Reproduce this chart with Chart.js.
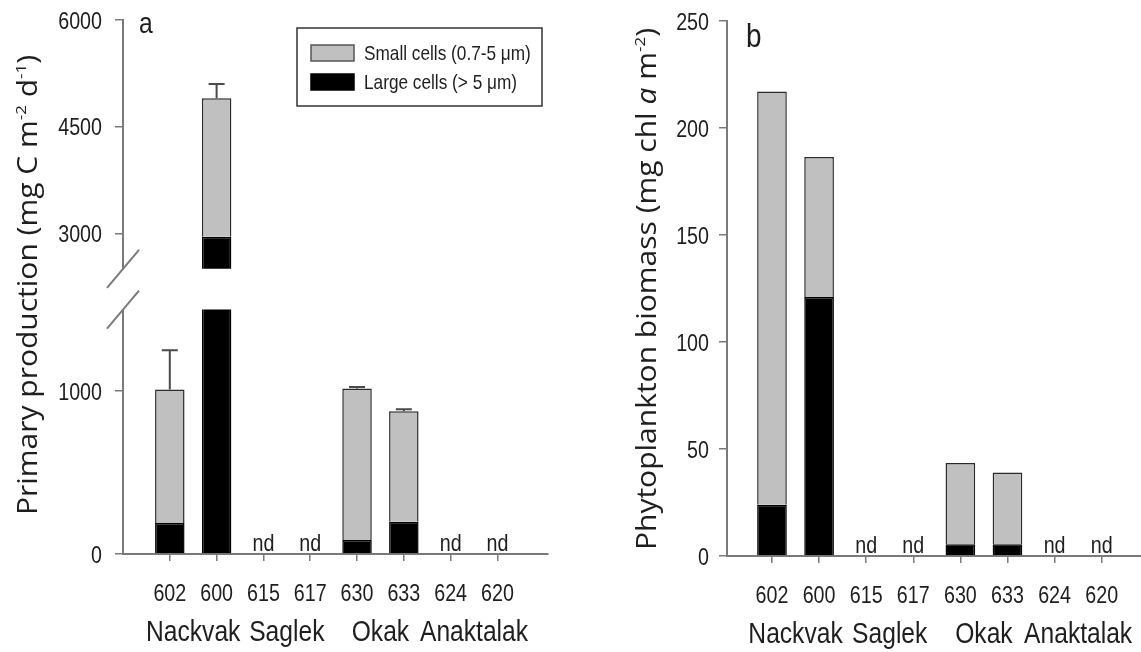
<!DOCTYPE html>
<html>
<head>
<meta charset="utf-8">
<script src="https://cdn.jsdelivr.net/npm/chart.js@4.4.1/dist/chart.umd.min.js"></script>
<style>
  html, body { margin: 0; padding: 0; background: #fff; }
  body { width: 1141px; height: 652px; position: relative; overflow: hidden; }
  .panel { position: absolute; top: 0; height: 652px; }
  #wrapA { left: 0; width: 570px; }
  #wrapB { left: 570px; width: 571px; }
</style>
</head>
<body>
<div class="panel" id="wrapA"><canvas id="chartA"></canvas></div>
<div class="panel" id="wrapB"><canvas id="chartB"></canvas></div>
<script>
// stations, grouped two by two under the fjord names
const stations = ['602', '600', '615', '617', '630', '633', '624', '620'];
const groupNames = ['Nackvak', 'Saglek', 'Okak', 'Anaktalak'];
const legendLabels = ['Small cells (0.7-5 \u03bcm)', 'Large cells (> 5 \u03bcm)'];

// a: primary production (mg C m-2 d-1), null = nd
const prodLarge = [190, 2950, null, null, 86, 198, null, null];
const prodSmall = [820, 1950, null, null, 929, 678, null, null];
const prodErrTop = [1250, 5100, null, null, 1025, 888, null, null];
const prodTicksLow = [0, 1000];
const prodTicksHigh = [3000, 4500, 6000];

// b: phytoplankton biomass (mg chl a m-2)
const chlLarge = [24, 121, null, null, 5.5, 5.5, null, null];
const chlSmall = [193, 65.5, null, null, 38, 33.5, null, null];
const chlTicks = [0, 50, 100, 150, 200, 250];

// broken axis of panel a
const LOW_MAX = 1750, LOW_BREAK = 1500, HIGH_MIN = 2500, HIGH_MAX = 6000;

const titleA = [
    { text: 'Primary production (mg C m' }, { text: '-2', sup: true },
    { text: ' d' }, { text: '-1', sup: true }, { text: ')' }
];
const titleB = [
    { text: 'Phytoplankton biomass (mg chl ' }, { text: 'a', italic: true },
    { text: ' m' }, { text: '-2', sup: true }, { text: ')' }
];

const GRAY = '#c0c0c0';
const BLACK = '#000000';
const EDGE = '#2a2a2a';
const AXIS = '#7a7a7a';
const TEXT = '#1e1e1e';
const SANS = '"Liberation Sans", Arial, sans-serif';
const TITLE_FONT = '"Open Sans", "Noto Sans", sans-serif';
const SQUEEZE = 0.82; // the figure's lettering is condensed
const TITLE_SQUEEZE = 0.9;

const xy = arr => arr.map((v, i) => ({ x: i + 1, y: v }));

function bars(label, data, color, axis) {
    return {
        label, data: xy(data), yAxisID: axis, stack: 'one',
        backgroundColor: color, borderColor: color === BLACK ? BLACK : EDGE,
        borderWidth: 1.5, barPercentage: 0.63, categoryPercentage: 1
    };
}

function xScale(min, max, height) {
    return {
        type: 'linear', min, max, stacked: true, offset: false,
        afterBuildTicks: s => { s.ticks = stations.map((_, i) => ({ value: i + 1 })); },
        afterFit: s => { s.height = height; },
        ticks: { display: false },
        grid: { offset: false, drawOnChartArea: false, tickLength: 7, color: AXIS, lineWidth: 1.5 },
        border: { color: AXIS, width: 2 }
    };
}

function yScale(extra, tickValues, width) {
    return Object.assign({
        type: 'linear', position: 'left', beginAtZero: false,
        afterBuildTicks: s => { s.ticks = tickValues.map(v => ({ value: v })); },
        afterFit: s => { s.width = width; },
        ticks: { display: false },
        grid: { drawOnChartArea: false, tickLength: 8, color: AXIS, lineWidth: 1.5 },
        border: { color: AXIS, width: 2 }
    }, extra);
}

function squeezed(ctx, text, x, y, size, align) {
    ctx.save();
    ctx.translate(x, y);
    ctx.scale(SQUEEZE, 1);
    ctx.font = `${size}px ${SANS}`;
    ctx.textAlign = align;
    ctx.textBaseline = 'alphabetic';
    ctx.fillText(text, 0, 0);
    ctx.restore();
}

function drawTitle(ctx, parts, baseX, centerY, size) {
    const fontOf = p => `${p.italic ? 'italic ' : ''}${p.sup ? Math.round(size * 0.55) : size}px ${TITLE_FONT}`;
    ctx.save();
    ctx.translate(baseX, centerY);
    ctx.scale(TITLE_SQUEEZE, 1);
    ctx.rotate(-Math.PI / 2);
    let total = 0;
    parts.forEach(p => { ctx.font = fontOf(p); total += ctx.measureText(p.text).width; });
    let pos = -total / 2;
    ctx.fillStyle = TEXT;
    ctx.textBaseline = 'alphabetic';
    parts.forEach(p => {
        ctx.font = fontOf(p);
        ctx.fillText(p.text, pos, p.sup ? -size * 0.4 : 0);
        pos += ctx.measureText(p.text).width;
    });
    ctx.restore();
}

// tick labels, nd marks and fjord names, placed from the chart's scales
function drawLabels(chart, large, yIds, gap, groupBaseline) {
    const { ctx, chartArea, scales } = chart;
    const x = scales.x;
    ctx.save();
    ctx.fillStyle = TEXT;
    x.ticks.forEach((t, i) => {
        squeezed(ctx, stations[i], x.getPixelForValue(t.value), chartArea.bottom + 47, 24, 'center');
    });
    yIds.forEach(id => {
        const s = scales[id];
        s.ticks.forEach(t => {
            squeezed(ctx, String(t.value), chartArea.left - 8 - gap, s.getPixelForValue(t.value) + 8.5, 24, 'right');
        });
    });
    large.forEach((v, i) => {
        if (v == null) squeezed(ctx, 'nd', x.getPixelForValue(i + 1), chartArea.bottom - 3, 24, 'center');
    });
    groupNames.forEach((name, g) => {
        const cx = (x.getPixelForValue(2 * g + 1) + x.getPixelForValue(2 * g + 2)) / 2;
        squeezed(ctx, name, cx, chart.height - groupBaseline, 30, 'center');
    });
    ctx.restore();
}

// panel a: clip each half of the broken axis, then the extras
const panelA = {
    id: 'panelA',
    beforeDatasetDraw(chart, args) {
        const s = args.meta.vScale;
        const top = s.id === 'yLow' ? s.getPixelForValue(LOW_BREAK) : s.top;
        const ctx = chart.ctx;
        ctx.save();
        ctx.beginPath();
        ctx.rect(chart.chartArea.left, top, chart.chartArea.width, s.bottom - top + 1);
        ctx.clip();
    },
    afterDatasetDraw(chart) {
        chart.ctx.restore();
    },
    afterDraw(chart) {
        const { ctx, chartArea, scales: { x, yLow, yHigh } } = chart;
        const axisX = chartArea.left;
        const breakY = yLow.getPixelForValue(LOW_BREAK);
        ctx.save();
        ctx.strokeStyle = AXIS;
        ctx.lineWidth = 2;
        ctx.beginPath();
        ctx.moveTo(axisX, breakY);
        ctx.lineTo(axisX, yLow.bottom);
        ctx.stroke();
        [yHigh.bottom, breakY].forEach(y => {
            ctx.beginPath();
            ctx.moveTo(axisX - 16, y + 19);
            ctx.lineTo(axisX + 16, y - 19);
            ctx.stroke();
        });

        // error bars
        ctx.strokeStyle = '#4a4a4a';
        prodErrTop.forEach((err, i) => {
            if (err == null) return;
            const total = prodLarge[i] + prodSmall[i];
            const s = total > LOW_BREAK ? yHigh : yLow;
            const px = x.getPixelForValue(i + 1);
            const y0 = s.getPixelForValue(total);
            const y1 = s.getPixelForValue(err);
            ctx.beginPath();
            ctx.moveTo(px, y0);
            ctx.lineTo(px, y1);
            ctx.moveTo(px - 8, y1);
            ctx.lineTo(px + 8, y1);
            ctx.stroke();
        });

        // legend
        const lx = chartArea.left + 174, ly = chartArea.top + 8;
        ctx.strokeStyle = '#333';
        ctx.lineWidth = 1.5;
        ctx.strokeRect(lx, ly, 245, 78);
        [GRAY, BLACK].forEach((c, k) => {
            const sy = ly + 17 + k * 29;
            ctx.fillStyle = c;
            ctx.fillRect(lx + 14, sy, 43, 16);
            ctx.strokeStyle = c === BLACK ? BLACK : '#555';
            ctx.strokeRect(lx + 14, sy, 43, 16);
            ctx.fillStyle = TEXT;
            squeezed(ctx, legendLabels[k], lx + 67, sy + 15, 21, 'left');
        });

        ctx.fillStyle = TEXT;
        squeezed(ctx, 'a', chartArea.left + 16, 33, 30, 'left');
        ctx.restore();

        drawLabels(chart, prodLarge, ['yLow', 'yHigh'], 13, 11);
        drawTitle(ctx, titleA, 37, 285, 30);
    }
};

const panelB = {
    id: 'panelB',
    afterDraw(chart) {
        const { ctx, chartArea } = chart;
        ctx.save();
        ctx.fillStyle = TEXT;
        squeezed(ctx, 'b', chartArea.left + 19, 47, 34, 'left');
        ctx.restore();
        drawLabels(chart, chlLarge, ['y'], 10, 9);
        drawTitle(ctx, titleB, 86, 289, 30);
    }
};

const common = {
    responsive: true,
    maintainAspectRatio: false,
    animation: false,
    events: [],
    plugins: { legend: { display: false }, tooltip: { enabled: false } }
};

new Chart(document.getElementById('chartA'), {
    type: 'bar',
    data: {
        datasets: [
            bars(legendLabels[1], prodLarge, BLACK, 'yLow'),
            bars(legendLabels[0], prodSmall, GRAY, 'yLow'),
            bars(legendLabels[1], prodLarge, BLACK, 'yHigh'),
            bars(legendLabels[0], prodSmall, GRAY, 'yHigh')
        ]
    },
    options: Object.assign({}, common, {
        layout: { padding: { left: 0, top: 20, right: 22, bottom: 0 } },
        scales: {
            x: xScale(0, 9.08, 98),
            yLow: yScale({
                min: 0, max: LOW_MAX, stacked: true, stack: 'left', weight: 0,
                stackWeight: LOW_MAX / 6.116, border: { display: false }
            }, prodTicksLow, 123),
            yHigh: yScale({
                min: HIGH_MIN, max: HIGH_MAX, stacked: true, stack: 'left', weight: 1,
                stackWeight: (HIGH_MAX - HIGH_MIN) / 14.02
            }, prodTicksHigh, 123)
        }
    }),
    plugins: [panelA]
});

new Chart(document.getElementById('chartB'), {
    type: 'bar',
    data: {
        datasets: [
            bars(legendLabels[1], chlLarge, BLACK, 'y'),
            bars(legendLabels[0], chlSmall, GRAY, 'y')
        ]
    },
    options: Object.assign({}, common, {
        layout: { padding: { left: 0, top: 21, right: 0, bottom: 0 } },
        scales: {
            x: xScale(0.045, 8.835, 96),
            y: yScale({ min: 0, max: 250, stacked: true }, chlTicks, 157)
        }
    }),
    plugins: [panelB]
});
</script>
</body>
</html>
